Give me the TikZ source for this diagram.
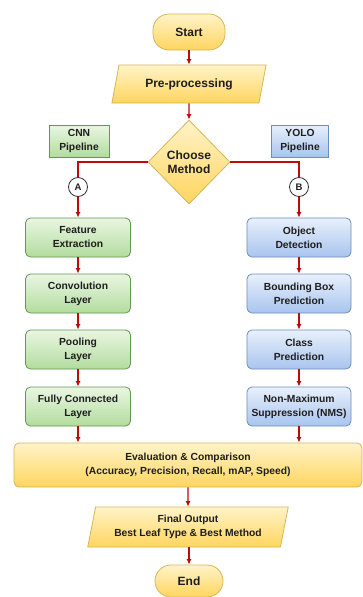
\documentclass[tikz,border=0pt]{standalone}
\usepackage{fontspec}
\setmainfont{Liberation Sans}
\usepackage{tikz}
\usetikzlibrary{shapes.geometric,arrows.meta,positioning}
\definecolor{flowred}{RGB}{190,10,10}
\definecolor{yelline}{RGB}{214,182,86}
\definecolor{yeltop}{RGB}{255,243,200}
\definecolor{yelbot}{RGB}{255,213,95}
\definecolor{grnline}{RGB}{100,150,80}
\definecolor{grntop}{RGB}{234,246,226}
\definecolor{grnbot}{RGB}{178,220,158}
\definecolor{bluline}{RGB}{108,142,191}
\definecolor{blutop}{RGB}{232,240,252}
\definecolor{blubot}{RGB}{168,196,238}
\definecolor{textdark}{RGB}{30,30,30}

\begin{document}
\begin{tikzpicture}[
  x=1pt,y=-1pt,
  font=\bfseries\fontsize{10.3}{14}\selectfont,
  text=textdark,
  big/.style={font=\bfseries\fontsize{12}{14.5}\selectfont},
  yel/.style={draw=yelline,thick,top color=yeltop,bottom color=yelbot},
  term/.style={yel,big,rounded corners=16pt,minimum width=72pt,minimum height=36pt},
  io/.style={yel,trapezium,trapezium stretches=true,align=center,inner sep=1pt},
  cnnbox/.style={draw=grnline,thick,top color=grntop,bottom color=grnbot,rounded corners=5pt,minimum width=105pt,minimum height=39pt,align=center,inner sep=1pt},
  yolobox/.style={draw=bluline,thick,top color=blutop,bottom color=blubot,rounded corners=5pt,minimum width=104pt,minimum height=39pt,align=center,inner sep=1pt},
  tag/.style={thick,minimum height=32pt,align=center,inner sep=1pt},
  connector/.style={circle,draw=gray!40!black,thick,fill=white,minimum size=19pt,inner sep=0pt,font=\bfseries\fontsize{9.5}{10}\selectfont},
  link/.style={draw=flowred,line width=1.1pt},
  arr/.style={link,-{Latex[length=5.5pt,width=5pt]}},
]
\useasboundingbox[fill=white] (0,0) rectangle (363,597);

\node[term] (start) at (189,32) {Start};
\node[io,big,trapezium left angle=71,trapezium right angle=109,minimum width=155pt,minimum height=38pt] (pre) at (189,84) {Pre-processing};
\node[diamond,yel,big,align=center,minimum width=82pt,minimum height=84pt,inner sep=1pt] (choose) at (189,162) {Choose\\Method};

\node[tag,draw=grnline,top color=grntop,bottom color=grnbot,minimum width=60pt] (cnn) at (79,141) {CNN\\Pipeline};
\node[tag,draw=bluline,top color=blutop,bottom color=blubot,minimum width=57pt] (yolo) at (300,141) {YOLO\\Pipeline};

\node[connector] (ca) at (78,187) {A};
\node[connector] (cb) at (299,187) {B};

% CNN branch
\node[cnnbox] (feat) at (78,237.5) {Feature\\Extraction};
\node[cnnbox] (conv) at (78,293.5) {Convolution\\Layer};
\node[cnnbox] (pool) at (78,349.5) {Pooling\\Layer};
\node[cnnbox] (fc) at (78,406.5) {Fully Connected\\Layer};

% YOLO branch
\node[yolobox] (obj) at (299,237.5) {Object\\Detection};
\node[yolobox] (bbox) at (299,293.5) {Bounding Box\\Prediction};
\node[yolobox] (cls) at (299,349.5) {Class\\Prediction};
\node[yolobox] (nms) at (299,406.5) {Non-Maximum\\Suppression (NMS)};

\node[yel,rounded corners=5pt,minimum width=348pt,minimum height=44pt,align=center] (eval) at (188,465) {Evaluation \& Comparison\\(Accuracy, Precision, Recall, mAP, Speed)};
\node[io,trapezium left angle=76,trapezium right angle=104,minimum width=201pt,minimum height=40pt] (out) at (188,527) {Final Output\\Best Leaf Type \& Best Method};
\node[term,minimum width=68pt,minimum height=32pt] (end) at (189,581) {End};

\draw[arr] (start) -- (pre);
\draw[arr] (pre) -- (choose);
\draw[link] (choose.west) -| (ca);
\draw[link] (choose.east) -| (cb);
\draw[arr] (ca) -- (feat);
\draw[arr] (cb) -- (obj);
\draw[arr] (feat) -- (conv);
\draw[arr] (conv) -- (pool);
\draw[arr] (pool) -- (fc);
\draw[arr] (obj) -- (bbox);
\draw[arr] (bbox) -- (cls);
\draw[arr] (cls) -- (nms);
\draw[arr] (fc) -- (fc |- eval.north);
\draw[arr] (nms) -- (nms |- eval.north);
\draw[arr] (out.north |- eval.south) -- (out);
\draw[arr] (out.south -| end.north) -- (end);
\end{tikzpicture}
\end{document}
